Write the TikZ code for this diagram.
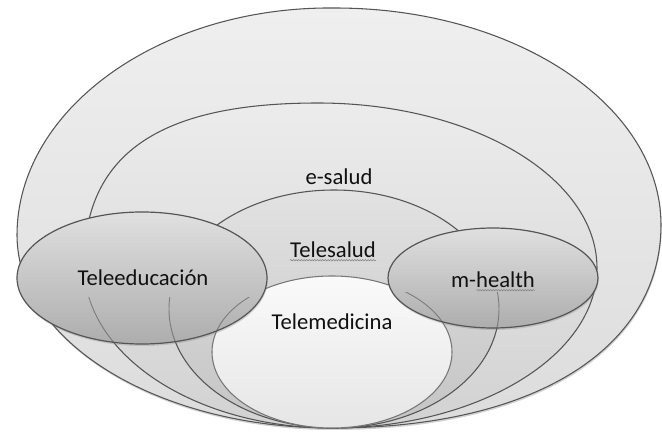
\documentclass[tikz,border=0pt]{standalone}
\usepackage{fontspec}
\setmainfont{Carlito}
\usepackage{xcolor}
\usepackage{tikz}
\usetikzlibrary{shadows, decorations.pathmorphing}
\definecolor{EdgeGray}{HTML}{555555}
\definecolor{OuterTop}{HTML}{EFEFEF}
\definecolor{OuterBottom}{HTML}{DCDCDC}
\definecolor{SaludTop}{HTML}{ECECEC}
\definecolor{SaludBottom}{HTML}{D2D2D2}
\definecolor{TeleTop}{HTML}{E2E2E2}
\definecolor{TeleBottom}{HTML}{C4C4C4}
\definecolor{MedTop}{HTML}{FAFAFA}
\definecolor{MedBottom}{HTML}{E6E6E6}
\definecolor{BubbleTop}{HTML}{E0E0E0}
\definecolor{BubbleBottom}{HTML}{ADADAD}
\definecolor{TextDark}{HTML}{111111}
\newcommand{\outerzone}{(332,428) .. controls (158,428) and (17,342) .. (17,235)
  .. controls (17,110) and (159,6) .. (335,8)
  .. controls (515,8) and (661,105) .. (661,225)
  .. controls (661,345) and (540,428) .. (332,428) -- cycle}
\newcommand{\saludzone}{(332,428) .. controls (195,428) and (84,355) .. (84,265)
  .. controls (84,150) and (165,103) .. (318,103)
  .. controls (472,103) and (597,177) .. (597,268)
  .. controls (597,356) and (478,428) .. (332,428) -- cycle}
\newcommand{\telezone}{(334,309) ellipse [x radius=165, y radius=119]}
\newcommand{\medzone}{(332,352) ellipse [x radius=120, y radius=76]}
\begin{document}
\begin{tikzpicture}[x=0.75pt, y=-0.75pt,
    zone/.style={draw=EdgeGray, line width=0.8pt, top color=#1Top, bottom color=#1Bottom},
    bubble/.style={draw=EdgeGray, line width=0.9pt, top color=BubbleTop, bottom color=BubbleBottom,
      drop shadow={shadow xshift=0.5pt, shadow yshift=-1.5pt, opacity=0.3}},
    seeline/.style={draw=EdgeGray, line width=0.7pt, opacity=0.6},
    lbl/.style={font=\fontsize{17}{20}\selectfont, text=TextDark, inner sep=0pt},
    squiggle/.style={draw=gray, line width=0.4pt, decorate,
      decoration={snake, amplitude=0.5pt, segment length=2pt}}
  ]
    \useasboundingbox (0,0) rectangle (662,432);

    % Nested zones
    \path[zone=Outer, drop shadow={shadow xshift=0.5pt, shadow yshift=-1.5pt, opacity=0.35}] \outerzone;
    \path[zone=Salud] \saludzone;
    \path[zone=Tele] \telezone;
    \path[zone=Med, draw=EdgeGray!80] \medzone;

    % Side bubbles
    \path[bubble] (142,278) ellipse [x radius=125, y radius=66];
    \begin{scope}
      \clip (142,278) ellipse [x radius=125, y radius=66];
      \clip (0,297) rectangle (662,432);
      \draw[seeline] \saludzone;
      \draw[seeline] \telezone;
      \draw[seeline] \medzone;
    \end{scope}

    \path[bubble] (493,278) ellipse [x radius=105, y radius=50];
    \begin{scope}
      \clip (493,278) ellipse [x radius=105, y radius=50];
      \clip (0,292) rectangle (662,432);
      \draw[seeline] \saludzone;
      \draw[seeline] \telezone;
      \draw[seeline] \medzone;
    \end{scope}

    % Labels
    \node[lbl] (esal) at (339,177) {e-salud};
    \node[lbl] (tsal) at (333,250) {Telesalud};
    \node[lbl] (tmed) at (332,322) {Telemedicina};
    \node[lbl] (tedu) at (143,278) {Teleeducación};
    \node[lbl] (mhea) at (493,280) {m-health};

    % Spell-check marks
    \draw[squiggle] ([yshift=-1.5pt]tsal.south west) -- ([yshift=-1.5pt]tsal.south east);
    \draw[squiggle] ([xshift=-44pt, yshift=-1.5pt]mhea.south east) -- ([yshift=-1.5pt]mhea.south east);
  \end{tikzpicture}
\end{document}
